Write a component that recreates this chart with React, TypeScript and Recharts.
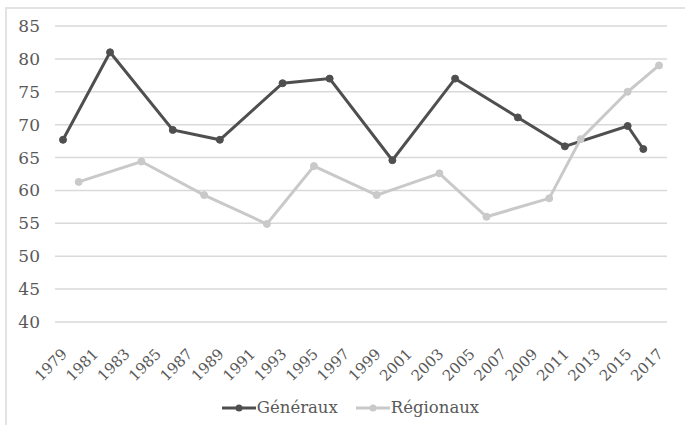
import { CartesianGrid, Legend, Line, LineChart, XAxis, YAxis } from 'recharts';

const years = [
  1979, 1980, 1981, 1982, 1983, 1984, 1985, 1986, 1987, 1988,
  1989, 1990, 1991, 1992, 1993, 1994, 1995, 1996, 1997, 1998,
  1999, 2000, 2001, 2002, 2003, 2004, 2005, 2006, 2007, 2008,
  2009, 2010, 2011, 2012, 2013, 2014, 2015, 2016, 2017
];

// participation, aligned with years (null = no election)
const generaux = [
  67.7, null, null, 81.0, null, null, null, 69.2, null, null,
  67.7, null, null, null, 76.3, null, null, 77.0, null, null,
  null, 64.6, null, null, null, 77.0, null, null, null, 71.1,
  null, null, 66.7, null, null, null, 69.8, 66.3, null
];

const regionaux = [
  null, 61.3, null, null, null, 64.4, null, null, null, 59.3,
  null, null, null, 54.9, null, null, 63.7, null, null, null,
  59.3, null, null, null, 62.6, null, null, 56.0, null, null,
  null, 58.8, null, 67.8, null, null, 75.0, null, 79.0
];

const yTicks = [40, 45, 50, 55, 60, 65, 70, 75, 80, 85];

const data = years.map((year, i) => ({
  year: String(year),
  generaux: generaux[i],
  regionaux: regionaux[i]
}));

const FONT = '"DejaVu Serif", "Liberation Serif", serif';
const TEXT = '#595959';
const DARK = '#4f4f4f';
const LIGHT = '#c9c9c9';

function YearTick(props: any) {
  const { x, y, payload } = props;
  return (
    <g transform={`translate(${x + 5},${y + 25}) rotate(-45)`}>
      <text textAnchor="end" fill={TEXT} fontSize={15} fontFamily={FONT}>
        {payload.value}
      </text>
    </g>
  );
}

function LegendContent(props: any) {
  const { payload = [] } = props;
  return (
    <div
      style={{
        display: 'flex',
        justifyContent: 'center',
        gap: 18,
        paddingTop: 4,
        paddingLeft: 34,
        fontFamily: FONT,
        fontSize: 16.5,
        color: TEXT
      }}
    >
      {payload.map((entry: any) => (
        <span key={entry.value} style={{ display: 'inline-flex', alignItems: 'center' }}>
          <svg width={34} height={10} style={{ marginRight: 1 }}>
            <line x1={0} y1={5} x2={34} y2={5} stroke={entry.color} strokeWidth={3} />
            <circle cx={17} cy={5} r={3.5} fill={entry.color} />
          </svg>
          {entry.value}
        </span>
      ))}
    </div>
  );
}

export default function App() {
  return (
    <div style={{ position: 'relative', width: 685, height: 425, background: '#fff' }}>
      <style>{'body{margin:0}'}</style>
      <div
        style={{
          position: 'absolute',
          left: 5,
          top: 7,
          right: 0,
          bottom: 0,
          borderTop: '2px solid #e3e3e3',
          borderLeft: '2px solid #e3e3e3'
        }}
      />
      <LineChart
        width={685}
        height={425}
        data={data}
        margin={{ top: 26, right: 18, left: 0, bottom: 0 }}
        style={{ position: 'absolute', left: 0, top: 0 }}
      >
        <CartesianGrid vertical={false} stroke="#d9d9d9" strokeWidth={1.5} />
        <XAxis
          dataKey="year"
          interval={1}
          padding={{ left: 8, right: 8 }}
          axisLine={false}
          tickLine={false}
          height={72}
          tick={<YearTick />}
        />
        <YAxis
          domain={[40, 85]}
          ticks={yTicks}
          width={55}
          axisLine={false}
          tickLine={false}
          tickMargin={9}
          tick={{ fill: TEXT, fontSize: 17, fontFamily: FONT }}
        />
        <Legend verticalAlign="bottom" height={31} content={<LegendContent />} />
        <Line
          name="Généraux"
          dataKey="generaux"
          stroke={DARK}
          strokeWidth={3}
          connectNulls
          dot={{ r: 3.5, fill: DARK, stroke: DARK, strokeWidth: 1 }}
          isAnimationActive={false}
        />
        <Line
          name="Régionaux"
          dataKey="regionaux"
          stroke={LIGHT}
          strokeWidth={3}
          connectNulls
          dot={{ r: 3.5, fill: LIGHT, stroke: LIGHT, strokeWidth: 1 }}
          isAnimationActive={false}
        />
      </LineChart>
    </div>
  );
}
